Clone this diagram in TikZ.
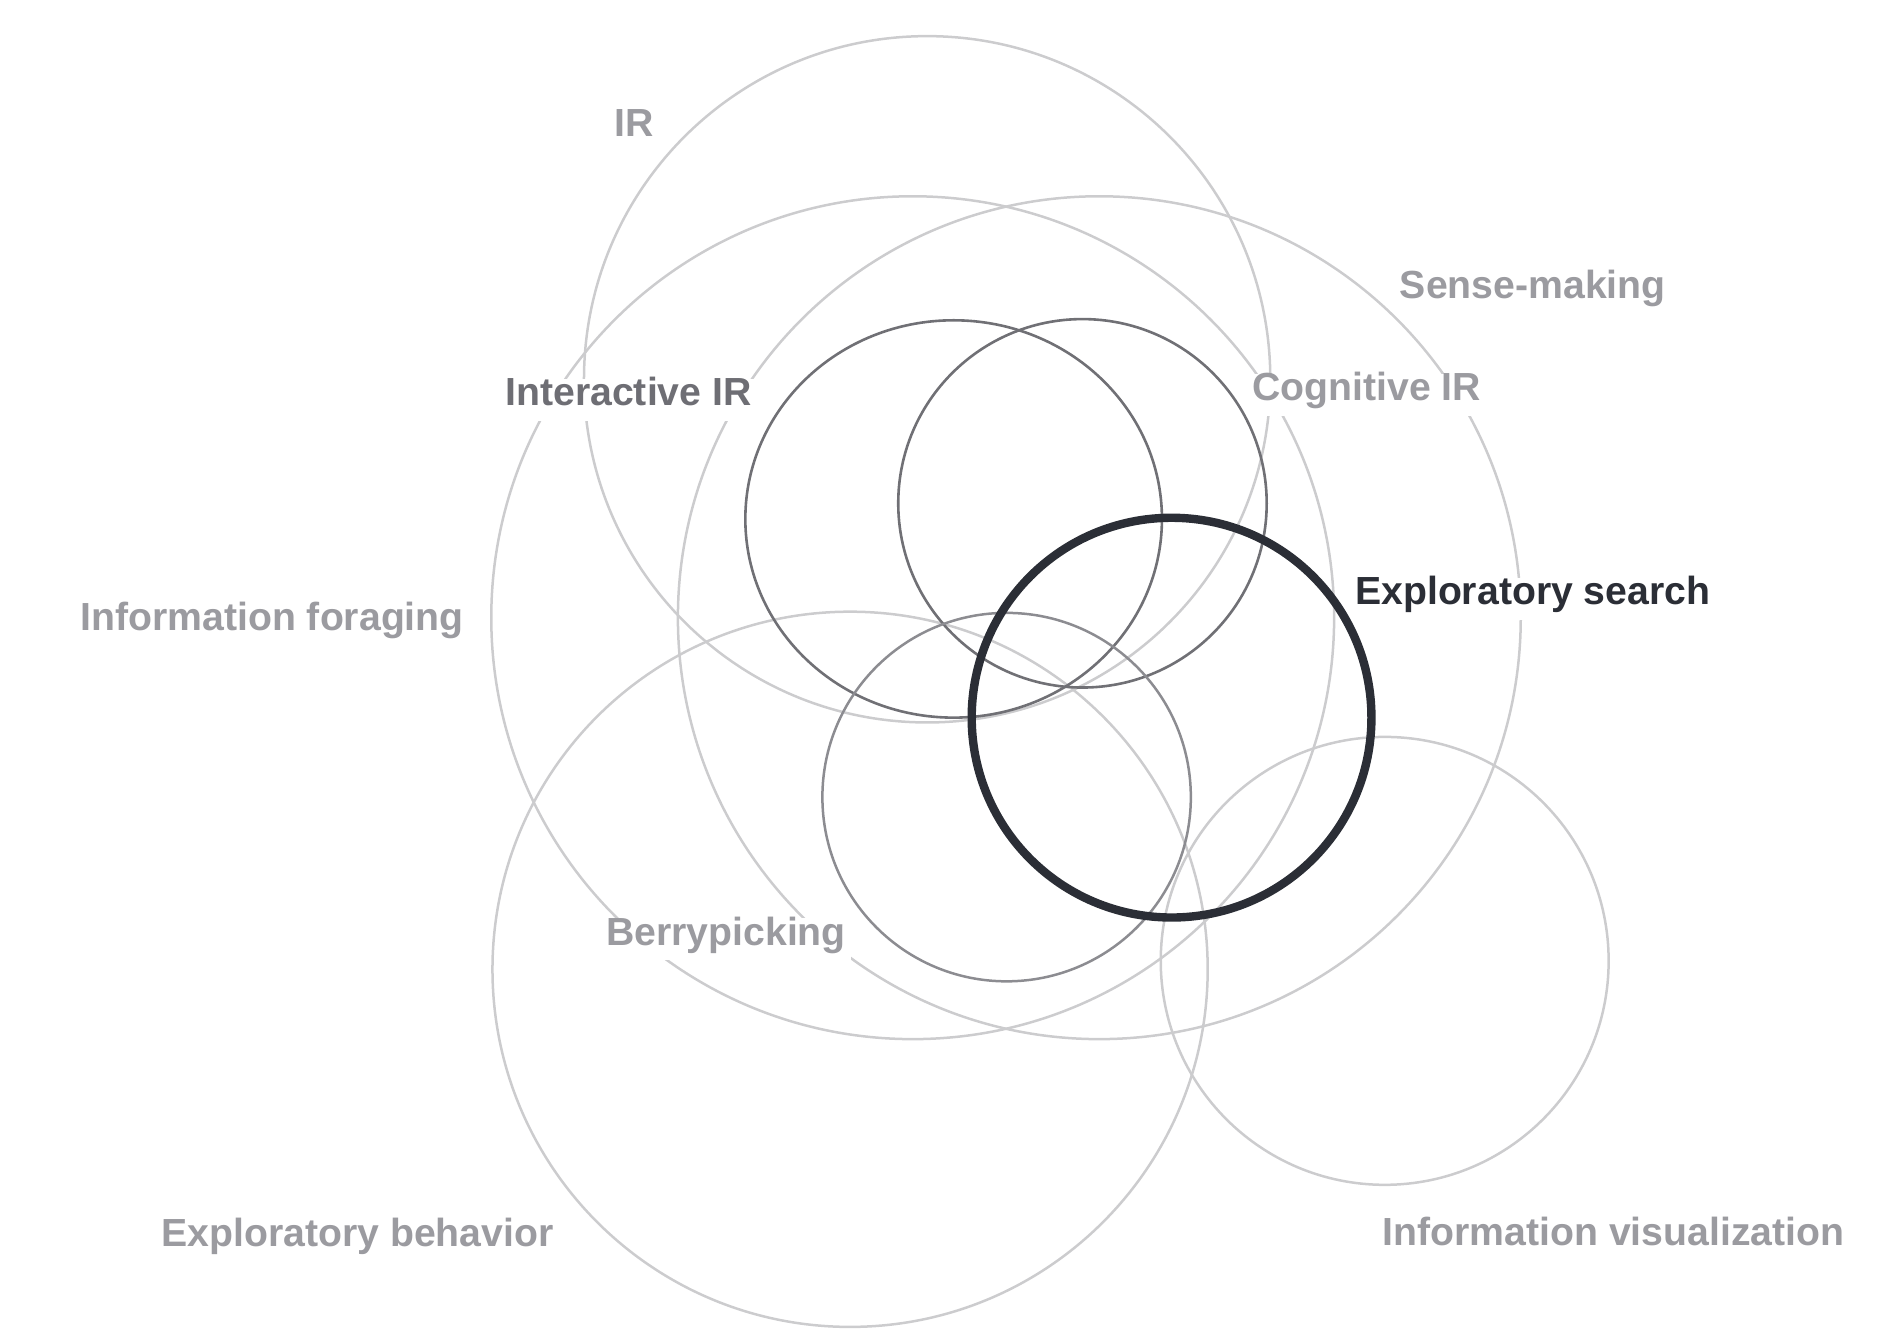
\documentclass[tikz,border=0pt]{standalone}
\usepackage{fontspec}
\setmainfont{Liberation Sans}
\usepackage{tikz}
\usetikzlibrary{positioning}
\definecolor{ringlight}{RGB}{204,204,206}
\definecolor{ringmid}{RGB}{140,140,145}
\definecolor{ringdark}{RGB}{112,112,117}
\definecolor{inkdark}{RGB}{43,46,54}
\definecolor{labellight}{RGB}{155,155,160}
\definecolor{labelmid}{RGB}{110,110,116}

\begin{document}
\begin{tikzpicture}[
  x=0.602pt, y=-0.602pt,
  font=\fontsize{19.6}{23}\selectfont\bfseries,
  ring/.style={draw=ringlight, line width=1.25pt},
  ringm/.style={draw=ringmid, line width=1.25pt},
  ringd/.style={draw=ringdark, line width=1.3pt},
  ringx/.style={draw=inkdark, line width=4.2pt},
  tag/.style={fill=white, inner xsep=2.5pt, inner ysep=5pt, anchor=base, text height=1.6ex, text depth=0.5ex, text=labellight}
]
\useasboundingbox (0,0) rectangle (1568,1106);
% outer circles
\draw[ring] (770,315) circle[radius=285];
\draw[ring] (758,513) circle[radius=350];
\draw[ring] (913,513) circle[radius=350];
\draw[ring] (706,805) circle[radius=297];
\draw[ring] (1150,798) circle[radius=186];
% labels
\node[tag] (ir) at (527,113) {IR};
\node[tag] (sense) at (1273,248) {Sense-making};
\node[tag, text=labelmid] (interactive) at (522,337) {Interactive IR};
\node[tag] (cognitive) at (1135,333) {Cognitive IR};
\node[tag, text=inkdark] (exploratory) at (1273,502) {Exploratory search};
\node[tag] (foraging) at (226,524) {Information foraging};
\node[tag] (berry) at (603,785) {Berrypicking};
\node[tag] (behavior) at (297,1035) {Exploratory behavior};
\node[tag] (infovis) at (1340,1034) {Information visualization};
% inner circles
\draw[ringd] (792,431) ellipse[x radius=173, y radius=165];
\draw[ringd] (899,418) circle[radius=153];
\draw[ringm] (836,662) circle[radius=153];
\draw[ringx] (973,596) circle[radius=166];
\end{tikzpicture}
\end{document}
